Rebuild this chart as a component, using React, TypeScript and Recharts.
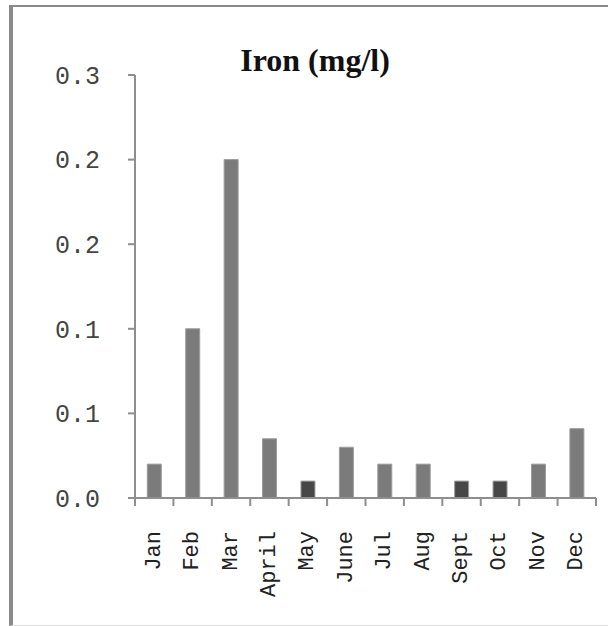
import { Bar, BarChart, Cell, XAxis, YAxis } from 'recharts';

const months = ['Jan', 'Feb', 'Mar', 'April', 'May', 'June', 'Jul', 'Aug', 'Sept', 'Oct', 'Nov', 'Dec'];
const iron = [0.02, 0.1, 0.2, 0.035, 0.01, 0.03, 0.02, 0.02, 0.01, 0.01, 0.02, 0.041];
const darkMonths = ['May', 'Sept', 'Oct'];

const yTicks = [0, 0.05, 0.1, 0.15, 0.2, 0.25];
const yTickLabels = ['0.0', '0.1', '0.1', '0.2', '0.2', '0.3'];

const data = months.map((month, i) => ({ month, iron: iron[i] }));

const axisFont = '"Liberation Mono", monospace';
const axisGray = '#8e8e8e';
const labelGap = 33;

type TickProps = { x: number; y: number; index: number; payload: { value: string; offset: number } };

// month label plus the little tick marks that sit between categories
function MonthTick({ x, y, index, payload }: TickProps) {
  const half = payload.offset || 0;
  const axisY = y - labelGap;
  return (
    <g>
      <line x1={x - half} x2={x - half} y1={axisY} y2={axisY + 8} stroke={axisGray} strokeWidth={2} />
      {index === months.length - 1 && (
        <line x1={x + half} x2={x + half} y1={axisY} y2={axisY + 8} stroke={axisGray} strokeWidth={2} />
      )}
      <text
        x={x}
        y={y}
        transform={`rotate(-90 ${x} ${y})`}
        textAnchor="end"
        dominantBaseline="central"
        fontFamily={axisFont}
        fontSize={22}
        fill="#222"
      >
        {payload.value}
      </text>
    </g>
  );
}

export default function App() {
  return (
    <div style={{ position: 'absolute', left: 0, top: 0, width: 608, height: 626, background: '#fff' }}>
      <div
        style={{
          position: 'absolute',
          left: 9,
          top: 5,
          width: 599,
          height: 621,
          boxSizing: 'border-box',
          borderTop: '2px solid #8a8a8a',
          borderLeft: '4px solid #8a8a8a',
          borderBottom: '1px solid #dcdcdc',
        }}
      />
      <div
        style={{
          position: 'absolute',
          left: 0,
          width: 630,
          top: 42,
          textAlign: 'center',
          fontFamily: '"Liberation Serif", serif',
          fontWeight: 'bold',
          fontSize: 32,
          color: '#111',
        }}
      >
        Iron (mg/l)
      </div>
      <div style={{ position: 'absolute', left: 0, top: 0 }}>
        <BarChart
          width={608}
          height={626}
          data={data}
          margin={{ top: 75, right: 12, bottom: 0, left: 0 }}
          barCategoryGap="32%"
        >
          <XAxis
            dataKey="month"
            interval={0}
            tick={MonthTick}
            tickLine={false}
            tickSize={0}
            tickMargin={labelGap}
            axisLine={{ stroke: axisGray, strokeWidth: 2 }}
            height={128}
          />
          <YAxis
            domain={[0, 0.25]}
            ticks={yTicks}
            interval={0}
            width={135}
            tickSize={7}
            tickMargin={28}
            tickFormatter={(_v: number, i: number) => yTickLabels[i]}
            tick={{ fill: '#444', fontSize: 25, fontFamily: axisFont }}
            tickLine={{ stroke: axisGray, strokeWidth: 2 }}
            axisLine={{ stroke: axisGray, strokeWidth: 2 }}
          />
          <Bar dataKey="iron" isAnimationActive={false} stroke="#9c9c9c" strokeWidth={1}>
            {data.map((d) => (
              <Cell key={d.month} fill={darkMonths.includes(d.month) ? '#474747' : '#7b7b7b'} />
            ))}
          </Bar>
        </BarChart>
      </div>
    </div>
  );
}
